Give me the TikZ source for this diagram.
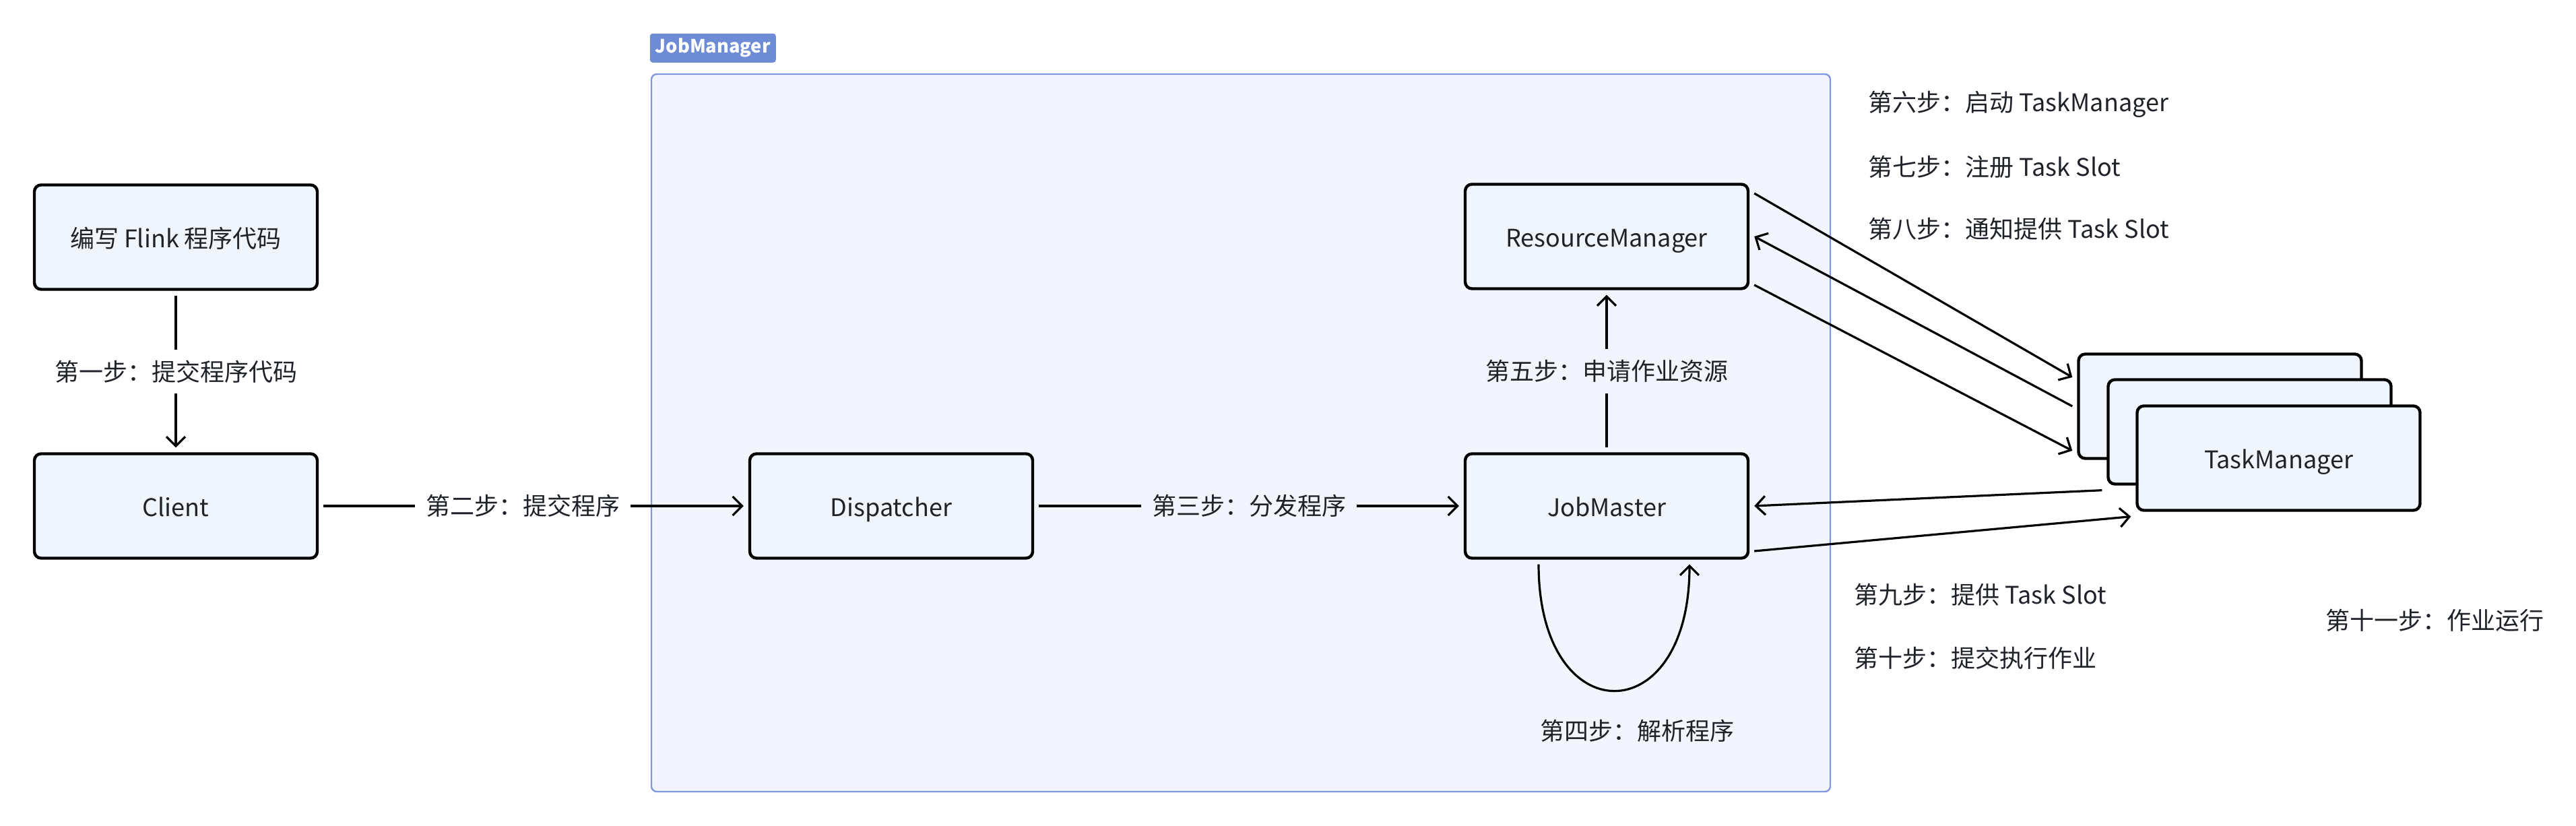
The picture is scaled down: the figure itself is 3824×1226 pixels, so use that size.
\documentclass[tikz,border=0pt]{standalone}
\usepackage{fontspec}
\newfontfamily\cjk{Noto Sans CJK SC}
\usetikzlibrary{arrows.meta}
\begin{document}
\begin{tikzpicture}[x=0.25pt,y=-0.25pt,
  every node/.style={font=\cjk\fontsize{9}{11}\selectfont,text=textColor},
  box/.style={draw=black,line width=1.1pt,fill=boxColor,rounded corners=2.5pt,
    minimum width=105pt,minimum height=38.75pt,inner sep=0pt,outer sep=2.3pt,
    text height=8.5pt,text depth=0.7pt},
  arr/.style={line width=0.8pt,-{Straight Barb[length=3.5pt,width=7pt,line width=0.8pt]}},
  lbl/.style={inner sep=4pt},
  note/.style={anchor=west,inner sep=0pt}]
\definecolor{boxColor}{HTML}{F0F4FC}
\definecolor{groupColor}{HTML}{F2F5FD}
\definecolor{groupDraw}{HTML}{7F98DE}
\definecolor{tagColor}{HTML}{6E8BD5}
\definecolor{textColor}{HTML}{1F2329}
\path[use as bounding box,fill=white] (0,0) rectangle (3824,1226);

% JobManager group
\node[draw=groupDraw,line width=0.6pt,fill=groupColor,rounded corners=2pt,
  minimum width=437.5pt,minimum height=266.25pt,inner sep=0pt] (jobmgr) at (1842,642.5) {};
\node[fill=tagColor,rounded corners=1pt,anchor=north west,minimum width=46.75pt,
  minimum height=10.75pt,inner sep=0pt,text=white,font=\cjk\bfseries\fontsize{6.8}{8}\selectfont]
  (jobmgrtag) at (964,49) {JobManager};

% boxes
\node[box] (code) at (261,352) {编写 Flink 程序代码};
\node[box] (client) at (261,751) {Client};
\node[box] (disp) at (1323,751) {Dispatcher};
\node[box] (jm) at (2385,751) {JobMaster};
\node[box] (rm) at (2385,351) {ResourceManager};
\node[box] (tmback) at (3295.5,603) {};
\node[box] (tmmid) at (3339.5,641) {};
\node[box] (tmfront) at (3382.5,680) {TaskManager};

% steps
\draw[arr] (code) -- node[lbl,fill=white] {第一步：提交程序代码} (client);
\draw[arr] (client) -- node[lbl,fill=white,pos=0.475] {第二步：提交程序} (disp);
\draw[arr] (disp) -- node[lbl,fill=groupColor] {第三步：分发程序} (jm);
\draw[arr] (jm) -- node[lbl,fill=groupColor] {第五步：申请作业资源} (rm);
\draw[arr] ([xshift=-25.25pt]jm.south) .. controls +(0,-62.5pt) and +(0,-62.5pt) .. ([xshift=30.75pt]jm.south);
\node (step4) at (2430,1085) {第四步：解析程序};

\draw[arr] ([yshift=16pt]rm.east) -- ([yshift=10.75pt]tmback.west);
\draw[arr] (tmback.west) -- (rm.east);
\draw[arr] ([yshift=-18pt]rm.east) -- ([yshift=-16.5pt]tmback.west);
\draw[arr] (tmmid.south west) -- (jm.east);
\draw[arr] ([yshift=-16.75pt]jm.east) -- (tmfront.south west);

\node[note] (step6) at (2773,155) {第六步：启动 TaskManager};
\node[note] (step7) at (2773,248) {第七步：注册 Task Slot};
\node[note] (step8) at (2773,340) {第八步：通知提供 Task Slot};
\node[note] (step9) at (2752,883) {第九步：提供 Task Slot};
\node[note] (step10) at (2752,977) {第十步：提交执行作业};
\node[note] (step11) at (3452,921) {第十一步：作业运行};
\end{tikzpicture}
\end{document}
